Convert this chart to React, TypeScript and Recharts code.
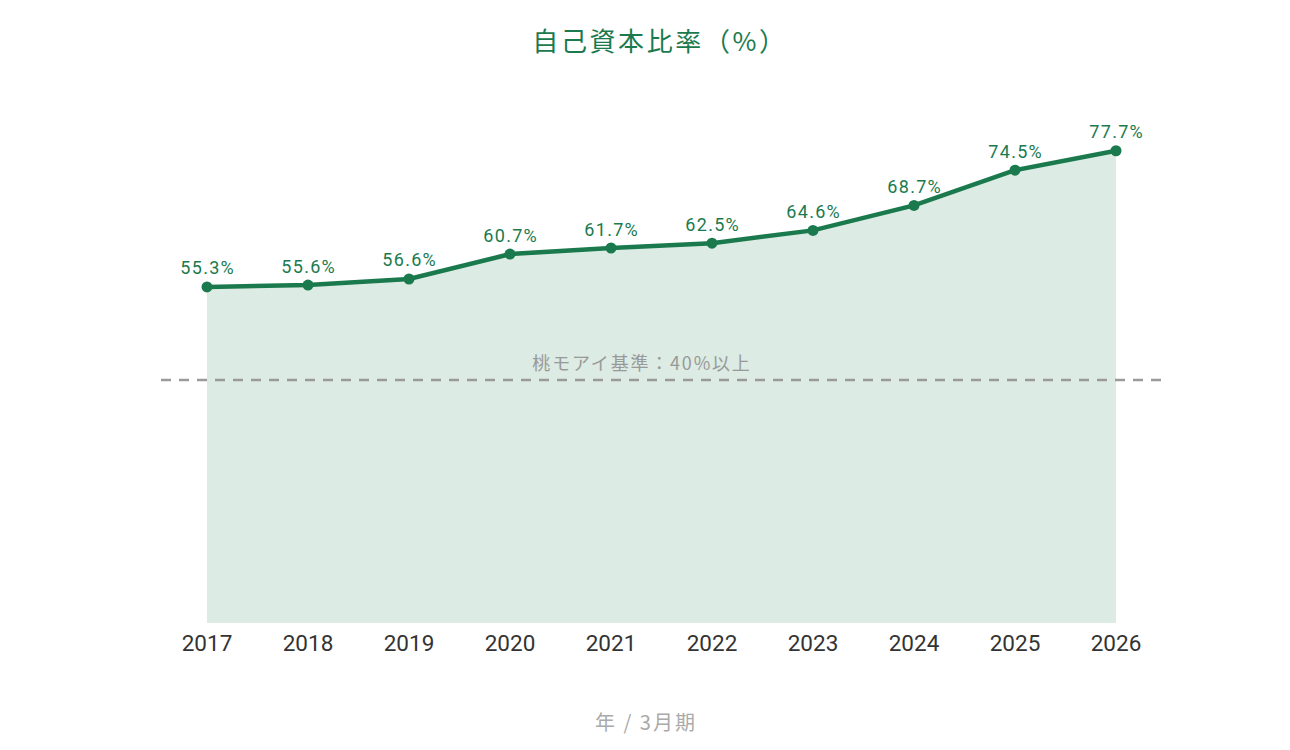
import React from "react";
import { AreaChart, Area, XAxis, YAxis, ReferenceLine, LabelList } from "recharts";

const years = ["2017", "2018", "2019", "2020", "2021", "2022", "2023", "2024", "2025", "2026"];
const ratios = [55.3, 55.6, 56.6, 60.7, 61.7, 62.5, 64.6, 68.7, 74.5, 77.7];
const threshold = 40;
const thresholdLabel = "桃モアイ基準：40%以上";
const title = "自己資本比率（%）";
const xLabel = "年 / 3月期";

const data = years.map((y, i) => ({ year: y, value: ratios[i] }));

const GREEN = "#1a7a4e";
const FONT = "'Noto Sans CJK JP', 'Noto Sans', sans-serif";
const NUMFONT = "Roboto, 'Noto Sans CJK JP', sans-serif";

const Tick = (props: any) => {
  const { x, payload } = props;
  return (
    <text x={x} y={643} textAnchor="middle" dominantBaseline="central" fontSize={22.5} fill="#333" fontFamily={NUMFONT}>
      {payload.value}
    </text>
  );
};

const RefLabel = (props: any) => {
  const { viewBox } = props;
  return (
    <text x={viewBox.x + viewBox.width / 2 - 19} y={viewBox.y - 18} textAnchor="middle" dominantBaseline="central" fontSize={18} fill="#999" fontFamily={FONT} style={{ letterSpacing: "1.8px" }}>
      {thresholdLabel}
    </text>
  );
};

const ValLabel = (props: any) => {
  const { x, y, value } = props;
  return (
    <text x={x + 0.7} y={y - 19} textAnchor="middle" dominantBaseline="central" fontSize={18} fill={GREEN} fontFamily={NUMFONT} style={{ letterSpacing: "1.3px" }}>
      {value}%
    </text>
  );
};

export default function App() {
  return (
    <div style={{ position: "absolute", left: 0, top: 0, width: 1290, height: 750, background: "#fff", fontFamily: FONT }}>
      <div style={{ position: "absolute", left: 0, width: 1290, top: 22, textAlign: "center", fontSize: 26, color: GREEN, lineHeight: "36px", letterSpacing: "2.6px", paddingLeft: 30, boxSizing: "border-box" }}>
        {title}
      </div>
      <AreaChart width={1290} height={750} data={data} margin={{ top: 76, right: 129, left: 161, bottom: 97 }}>
        <XAxis dataKey="year" height={30} axisLine={false} tickLine={false} tick={<Tick />} padding={{ left: 46, right: 45 }} interval={0} />
        <YAxis hide domain={[0, 90]} />
        <ReferenceLine y={threshold} stroke="#9a9a9a" strokeWidth={2.5} strokeDasharray="10 8" label={<RefLabel />} />
        <Area type="linear" dataKey="value" stroke={GREEN} strokeWidth={4.5} fill="#dcebe3" fillOpacity={1}
          dot={{ r: 5.5, fill: GREEN, stroke: GREEN, strokeWidth: 0 }} activeDot={false} isAnimationActive={false}>
          <LabelList dataKey="value" content={<ValLabel />} />
        </Area>
      </AreaChart>
      <div style={{ position: "absolute", left: 0, width: 1290, top: 708, textAlign: "center", fontSize: 20, color: "#aaa", lineHeight: "28px", letterSpacing: "2px", paddingLeft: 2, boxSizing: "border-box" }}>
        {xLabel}
      </div>
    </div>
  );
}
